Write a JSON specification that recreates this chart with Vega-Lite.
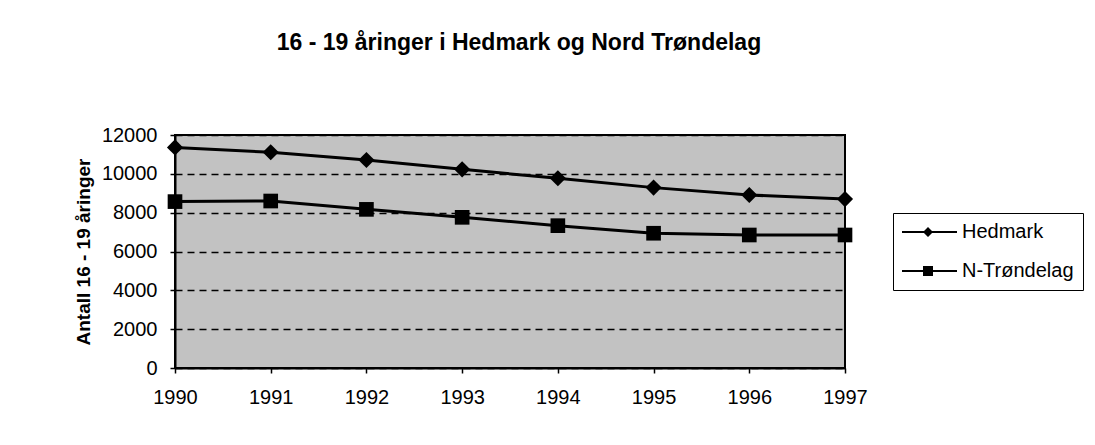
{
  "$schema": "https://vega.github.io/schema/vega-lite/v6.json",
  "width": 670,
  "height": 233,
  "autosize": {"type": "none"},
  "padding": {"left": 175, "top": 135, "right": 250, "bottom": 77},
  "background": "white",
  "title": {
    "text": "16 - 19 åringer i Hedmark og Nord Trøndelag",
    "font": "Liberation Sans",
    "fontSize": 23,
    "fontWeight": "bold",
    "color": "black",
    "offset": 70,
    "dx": 9
  },
  "data": {
    "values": [
      {"year": 1990, "series": "Hedmark", "value": 11360},
      {"year": 1991, "series": "Hedmark", "value": 11110},
      {"year": 1992, "series": "Hedmark", "value": 10710},
      {"year": 1993, "series": "Hedmark", "value": 10230},
      {"year": 1994, "series": "Hedmark", "value": 9770},
      {"year": 1995, "series": "Hedmark", "value": 9290},
      {"year": 1996, "series": "Hedmark", "value": 8910},
      {"year": 1997, "series": "Hedmark", "value": 8700},
      {"year": 1990, "series": "N-Trøndelag", "value": 8570},
      {"year": 1991, "series": "N-Trøndelag", "value": 8600},
      {"year": 1992, "series": "N-Trøndelag", "value": 8170},
      {"year": 1993, "series": "N-Trøndelag", "value": 7760},
      {"year": 1994, "series": "N-Trøndelag", "value": 7330},
      {"year": 1995, "series": "N-Trøndelag", "value": 6940},
      {"year": 1996, "series": "N-Trøndelag", "value": 6850},
      {"year": 1997, "series": "N-Trøndelag", "value": 6850}
    ]
  },
  "encoding": {
    "x": {
      "field": "year",
      "type": "quantitative",
      "scale": {"domain": [1990, 1997], "nice": false, "zero": false},
      "axis": {
        "title": null,
        "values": [1990, 1991, 1992, 1993, 1994, 1995, 1996, 1997],
        "format": "d",
        "grid": false,
        "labelFont": "Liberation Sans",
        "labelFontSize": 20,
        "labelColor": "black",
        "labelPadding": 14,
        "tickColor": "black",
        "tickSize": 5,
        "tickWidth": 1.5,
        "domainColor": "black",
        "domainWidth": 2,
        "labelFlush": false
      }
    },
    "y": {
      "field": "value",
      "type": "quantitative",
      "scale": {"domain": [0, 12000], "nice": false},
      "axis": {
        "title": "Antall 16 - 19 åringer",
        "titleFont": "Liberation Sans",
        "titleFontSize": 19,
        "titleFontWeight": "bold",
        "titleColor": "black",
        "titlePadding": 8,
        "values": [0, 2000, 4000, 6000, 8000, 10000, 12000],
        "format": "d",
        "labelFont": "Liberation Sans",
        "labelFontSize": 20,
        "labelColor": "black",
        "labelPadding": 13,
        "tickColor": "black",
        "tickSize": 5,
        "tickWidth": 1.5,
        "domainColor": "black",
        "domainWidth": 2,
        "grid": true,
        "gridColor": "black",
        "gridDash": [7, 5],
        "gridWidth": 1.5,
        "labelFlush": false
      }
    }
  },
  "layer": [
    {
      "mark": {"type": "line", "color": "black", "strokeWidth": 3},
      "encoding": {"detail": {"field": "series"}}
    },
    {
      "mark": {"type": "point", "filled": true, "color": "black", "opacity": 1},
      "encoding": {
        "shape": {
          "field": "series",
          "type": "nominal",
          "scale": {"domain": ["Hedmark", "N-Trøndelag"], "range": ["diamond", "square"]},
          "legend": null
        },
        "size": {
          "field": "series",
          "type": "nominal",
          "scale": {"domain": ["Hedmark", "N-Trøndelag"], "range": [260, 215]},
          "legend": null
        }
      }
    },
    {
      "mark": {"type": "point", "filled": true, "color": "black", "opacity": 0, "size": 10},
      "encoding": {
        "shape": {
          "field": "series",
          "type": "nominal",
          "scale": {
            "domain": ["Hedmark", "N-Trøndelag"],
            "range": [
              "M-1,-0.1L4.5,-0.1L4.5,0.1L-1,0.1Z M1.6,-0.5L2.1,0L1.6,0.5L1.1,0Z",
              "M-1,-0.1L4.5,-0.1L4.5,0.1L-1,0.1Z M1.1,-0.5L2.1,-0.5L2.1,0.5L1.1,0.5Z"
            ]
          },
          "legend": {
            "title": null,
            "orient": "none",
            "legendX": 718,
            "legendY": 78,
            "padding": 9,
            "strokeColor": "black",
            "fillColor": "white",
            "symbolSize": 400,
            "symbolOpacity": 1,
            "symbolFillColor": "black",
            "symbolStrokeWidth": 0,
            "labelFont": "Liberation Sans",
            "labelFontSize": 20,
            "labelColor": "black",
            "labelOffset": 40,
            "rowPadding": 19
          }
        }
      }
    }
  ],
  "resolve": {"scale": {"shape": "independent", "size": "independent"}, "legend": {"shape": "independent"}},
  "config": {
    "view": {"stroke": "black", "strokeWidth": 2, "fill": "#c2c2c2"}
  }
}
